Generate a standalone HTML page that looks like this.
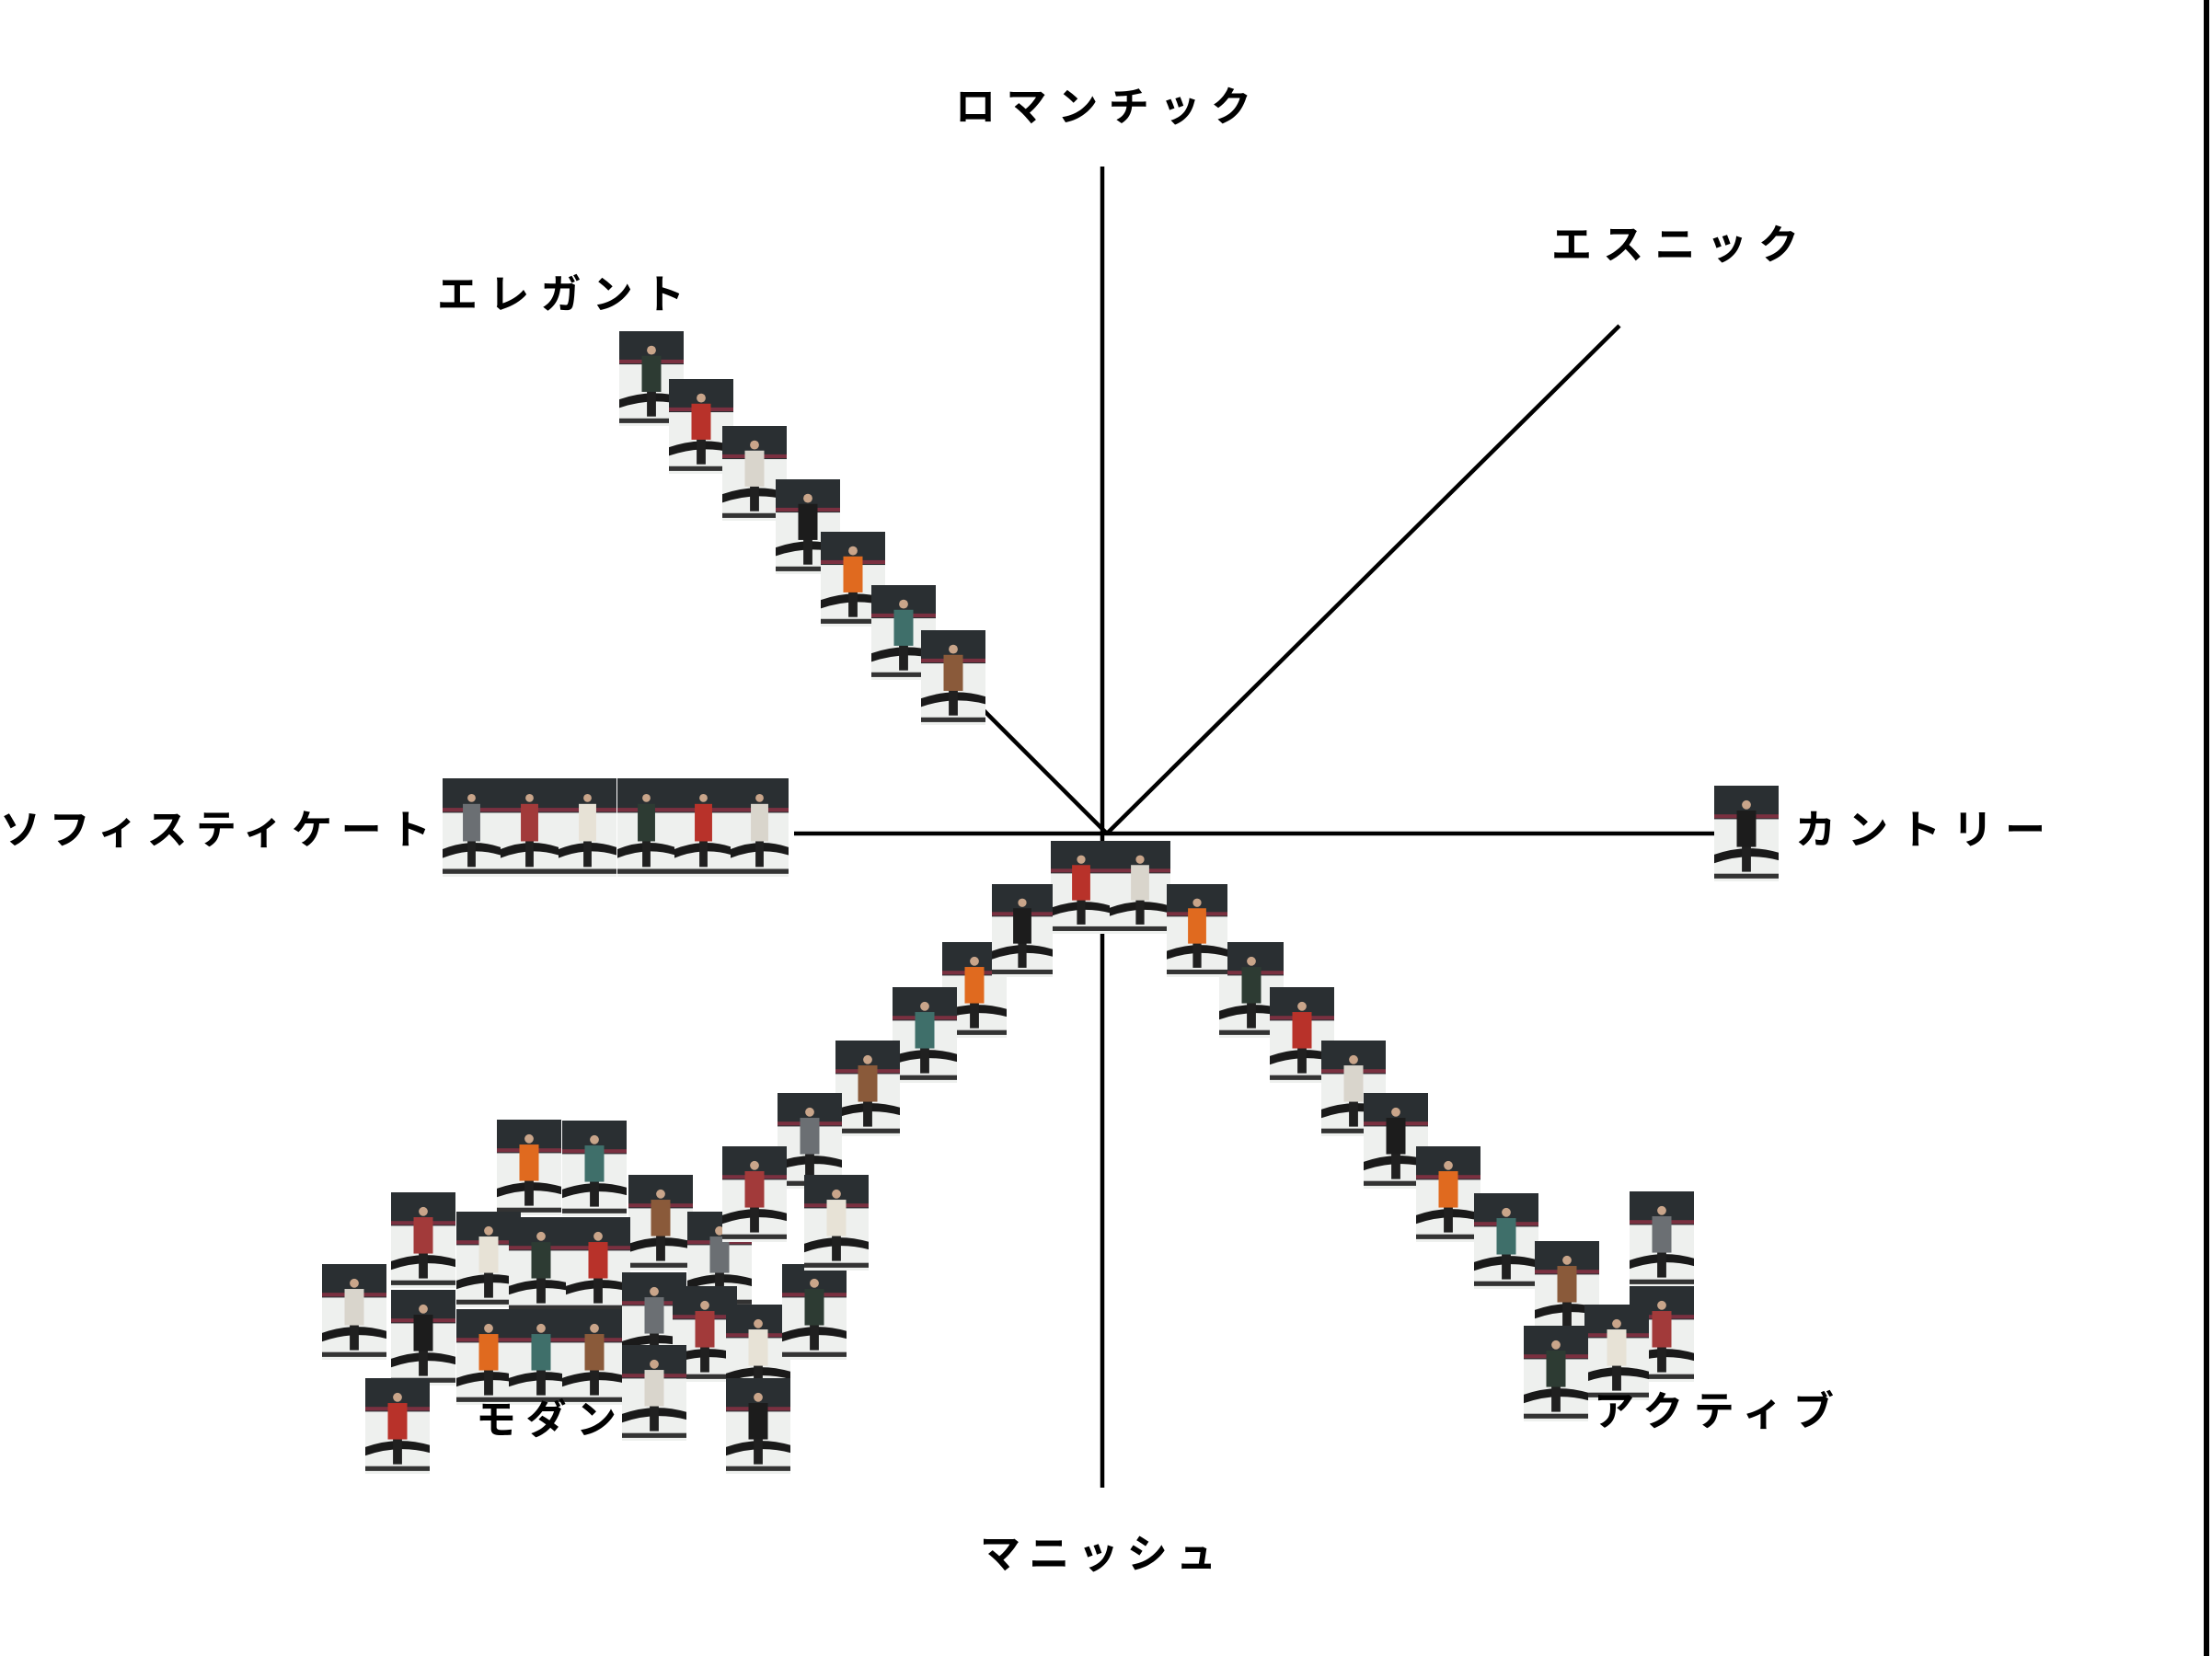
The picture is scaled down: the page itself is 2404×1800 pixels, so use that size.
<!DOCTYPE html>
<html><head><meta charset="utf-8"><style>
html,body{margin:0;padding:0;background:#fff;}
svg{display:block;}
text{font-family:"Liberation Sans","Noto Sans CJK JP",sans-serif;font-weight:700;font-size:44px;fill:#000;}
</style></head><body>
<svg id="map" width="2404" height="1800" viewBox="0 0 2404 1800" xmlns="http://www.w3.org/2000/svg">
<rect x="0" y="0" width="2404" height="1800" fill="#fff"/>
<rect x="2395" y="0" width="6" height="1800" fill="#000"/>
<g id="axes" stroke="#000" stroke-width="4.5">
<line x1="1198" y1="181" x2="1198" y2="1617"/>
<line x1="863" y1="906" x2="1863" y2="906"/>
<line x1="1203" y1="906" x2="1760" y2="354"/>
<line x1="1203" y1="906" x2="1068" y2="771"/>
</g>
<g id="thumbs"></g>
<g>
<text x="1038" y="131" textLength="322">ロマンチック</text>
<text x="1686" y="281" textLength="269">エスニック</text>
<text x="475" y="335" textLength="269">エレガント</text>
<text x="0" y="917" textLength="468">ソフィスティケート</text>
<text x="1951" y="917" textLength="272">カントリー</text>
<text x="517" y="1558" textLength="153">モダン</text>
<text x="1732" y="1549" textLength="261">アクティブ</text>
<text x="1065" y="1704" textLength="257">マニッシュ</text>
</g>
</svg>
<script>
// look positions in map units (x: country +, sophisticated -; y: romantic +, mannish -)
const elegantX=[-53,-47.6,-41.8,-36,-31.1,-25.6,-20.2];
const elegantY=[54.6,49.4,44.3,38.5,32.8,27,22.1];
const sophX=[-72.2,-65.9,-59.6,-53.2,-47,-40.9];
const sophY=[6,6,6,6,6,6];
const countryX=[66];
const countryY=[5.2];
const centralX=[-6.1,0.3,-12.5,6.5];
const centralY=[-0.8,-0.8,-5.5,-5.5];
const modernChainX=[-17.9,-23.3,-29.5,-35.8,-41.8,-32.9];
const modernChainY=[-11.8,-16.7,-22.5,-28.2,-34,-37.1];
const activeX=[12.2,17.7,23.3,27.9,33.6,39.9,46.5,56.8,56.8,51.9,45.3];
const activeY=[-11.8,-16.7,-22.5,-28.2,-34,-39.1,-44.3,-38.9,-49.2,-51.2,-53.5];
const modernClusterX=[-66.3,-59.2,-52,-45.6,-77.8,-70.7,-65,-58.8,-85.3,-77.8,-70.7,-65,-59.2,-52.7,-47.2,-41.4,-35.3,-80.6,-52.7,-41.4];
const modernClusterY=[-31.1,-31.2,-37.1,-41.1,-39,-41.1,-41.7,-41.7,-46.8,-49.6,-51.7,-51.7,-51.7,-47.7,-49.2,-51.2,-46.8,-59.2,-55.6,-59.2];
const outfitColors=["#2d3b33","#b8322a","#d9d5cc","#1c1c1c","#e06a1f","#3f6f6a","#8a5a3a","#6b6f73","#a23a3a","#e7e2d6"];

const sx=v=>1203+v*10;
const sy=v=>906-v*10;
const NS="http://www.w3.org/2000/svg";
const layer=document.getElementById('thumbs');
let idx=0;
function mk(tag,attrs,parent){const e=document.createElementNS(NS,tag);for(const k in attrs)e.setAttribute(k,attrs[k]);parent.appendChild(e);return e;}
function drawGroup(xs,ys,name,w,h){
  for(let i=0;i<xs.length;i++){
    const x=sx(xs[i]),y=sy(ys[i]);
    const g=document.createElementNS(NS,'g');
    
    
    layer.appendChild(g);
    const c=outfitColors[idx%outfitColors.length];idx++;
    mk('rect',{x:x,y:y,width:w,height:h,fill:'#2a2f32'},g);
    mk('rect',{x:x,y:y+h*0.35,width:w,height:h*0.65,fill:'#eef0ee'},g);
    mk('rect',{x:x,y:y+h*0.3,width:w,height:h*0.04,fill:'#7a3040'},g);
    mk('path',{d:`M${x} ${y+h*0.72} Q${x+w*0.5} ${y+h*0.6} ${x+w} ${y+h*0.7} L${x+w} ${y+h*0.78} Q${x+w*0.5} ${y+h*0.69} ${x} ${y+h*0.81} Z`,fill:'#1a1a1a'},g);
    mk('rect',{x:x,y:y+h*0.92,width:w,height:h*0.05,fill:'#333'},g);
    const cx=x+w*0.5;
    mk('rect',{x:cx-w*0.07,y:y+h*0.6,width:w*0.14,height:h*0.3,fill:'#202020'},g);
    mk('rect',{x:cx-w*0.15,y:y+h*0.26,width:w*0.3,height:h*0.38,fill:c},g);
    mk('circle',{cx:cx,cy:y+h*0.2,r:w*0.07,fill:'#c9a58a'},g);
  }
}
drawGroup(elegantX,elegantY,'elegant',70,103);
drawGroup(sophX,sophY,'sophisticated',63,107);
drawGroup(countryX,countryY,'country',70,104);
drawGroup(modernClusterX,modernClusterY,'modern-cluster',70,104);
drawGroup(modernChainX,modernChainY,'modern',70,104);
drawGroup(activeX,activeY,'active',70,104);
drawGroup(centralX,centralY,'central',66,101);
</script>
</body></html>
